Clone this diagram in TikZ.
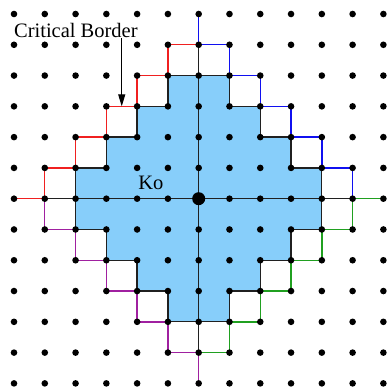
\documentclass[tikz,border=0pt]{standalone}
\usepackage{fontspec}
\setmainfont{Liberation Serif}
\usepackage{tikz}
\usetikzlibrary{arrows.meta}
\definecolor{RegionBlue}{HTML}{87CEFA}
\definecolor{BorderRed}{HTML}{F02020}
\definecolor{BorderBlue}{HTML}{1010F0}
\definecolor{BorderGreen}{HTML}{20A020}
\definecolor{BorderPurple}{HTML}{A020A0}
\definecolor{EdgeBlack}{HTML}{202020}
\tikzset{
  crit/.style={line width=1.4pt},
  edge/.style={draw=EdgeBlack,line width=1.3pt},
  lbl/.style={font=\fontsize{20.5}{24}\selectfont,inner sep=1pt}
}

\begin{document}
\begin{tikzpicture}[x=30.78pt,y=30.78pt]
  \useasboundingbox (-6.455,-6.117) rectangle (6.15,6.455);
  % region around Ko
  \filldraw[edge,fill=RegionBlue] (0,4) -- (1,4) -- (1,3) -- (2,3) -- (2,2) -- (3,2) -- (3,1) -- (4,1)
    -- (4,-1) -- (3,-1) -- (3,-2) -- (2,-2) -- (2,-3) -- (1,-3) -- (1,-4)
    -- (-1,-4) -- (-1,-3) -- (-2,-3) -- (-2,-2) -- (-3,-2) -- (-3,-1) -- (-4,-1)
    -- (-4,1) -- (-3,1) -- (-3,2) -- (-2,2) -- (-2,3) -- (-1,3) -- (-1,4) -- cycle;
  \draw[edge] (-5,0) -- (5,0);
  \draw[edge] (0,-5) -- (0,5);
  % critical border, one staircase per quadrant
  \foreach \ang/\col in {0/BorderRed,-90/BorderBlue,-180/BorderGreen,-270/BorderPurple}
    \draw[crit,draw=\col,rotate=\ang] (-6,0) -- (-5,0) -- (-5,1) -- (-4,1) -- (-4,2) -- (-3,2)
      -- (-3,3) -- (-2,3) -- (-2,4) -- (-1,4) -- (-1,5) -- (0,5);
  % lattice points
  \foreach \i in {-6,...,6}
    \foreach \j in {-6,...,6}
      \fill (\i,\j) circle (3.3pt);
  \fill (0,0) circle (6.5pt);
  \node[lbl,anchor=base] (ko) at (-1.556,0.283) {Ko};
  \node[lbl,anchor=base] (border) at (-3.99,5.25) {Critical Border};
  \coordinate (tip) at (-2.5,3);
  \draw[-{Triangle[length=12pt,width=7pt]},line width=1pt] (border.south -| tip) -- (tip);
\end{tikzpicture}
\end{document}
